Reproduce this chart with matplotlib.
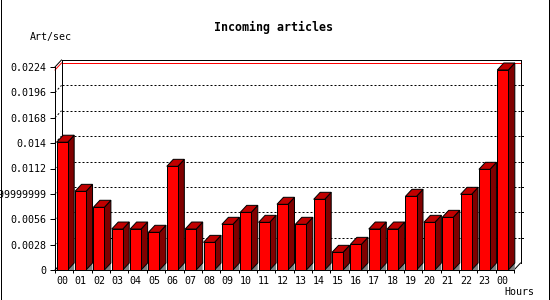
import matplotlib
matplotlib.use("Agg")
import matplotlib.pyplot as plt
from matplotlib.patches import Polygon
from matplotlib.lines import Line2D

# ---- data ----
hours = ['00', '01', '02', '03', '04', '05', '06', '07', '08', '09', '10', '11',
         '12', '13', '14', '15', '16', '17', '18', '19', '20', '21', '22', '23', '00']
values = [0.0141, 0.00868, 0.00692, 0.00452, 0.00452, 0.00416, 0.01144, 0.00452,
          0.00305, 0.00504, 0.00636, 0.00526, 0.00725, 0.00504, 0.0078, 0.00195,
          0.00283, 0.00452, 0.00452, 0.00813, 0.00526, 0.00581, 0.00835, 0.01111,
          0.02207]
y_ticks = [0, 0.0028, 0.0056, 0.0084, 0.0112, 0.014, 0.0168, 0.0196, 0.0224]
y_tick_labels = ['0', '0.0028', '0.0056', '0.00839999999999', '0.0112', '0.014',
                 '0.0168', '0.0196', '0.0224']
title = 'Incoming articles'
y_title = 'Art/sec'
x_title = 'Hours'

# ---- style ----
W, H, DPI = 550, 300, 100
PX = 72.0 / DPI  # one pixel in points
MONO = 'DejaVu Sans Mono'
FRONT = '#ff0000'
SIDE = '#800000'
TOP = '#c00000'
SHADOW = '#808080'

fig = plt.figure(figsize=(W / DPI, H / DPI), dpi=DPI)
fig.patch.set_facecolor('white')
ax_l, ax_r, ax_t, ax_b = 55, 514, 67, 270
ax = fig.add_axes([ax_l / W, 1 - ax_b / H, (ax_r - ax_l) / W, (ax_b - ax_t) / H])
n = len(values)
ymax = y_ticks[-1]
ax.set_xlim(0, n)
ax.set_ylim(0, ymax)
ax.set_facecolor('none')

# depth of the 3D effect, converted from pixels to data units
DX = 6.5 / ((ax_r - ax_l) / n)
DY = 7.0 / (ax_b - ax_t) * ymax
BAR_OFF, BAR_W = 0.09, 0.6

lw = PX
# back wall gridlines (dotted) and connecting diagonals
for t in y_ticks[1:-1]:
    ax.add_line(Line2D([DX, n + DX], [t + DY, t + DY], color='black', lw=lw,
                       dashes=(2, 2), clip_on=False, zorder=1))
    ax.add_line(Line2D([0, DX], [t, t + DY], color='black', lw=lw,
                       dashes=(2, 2), clip_on=False, zorder=1))
    ax.add_line(Line2D([n + DX, n + DX + 0.12], [t + DY, t + DY], color='black',
                       lw=lw, clip_on=False, zorder=1))
# max value line (red)
vmax = max(values)
ax.add_line(Line2D([DX, n + DX], [vmax + DY, vmax + DY], color='red', lw=lw,
                   clip_on=False, zorder=1))
ax.add_line(Line2D([0, DX], [vmax, vmax + DY], color='red', lw=lw,
                   clip_on=False, zorder=1))
# back wall outline
ax.add_line(Line2D([0, DX], [ymax, ymax + DY], color='black', lw=lw, clip_on=False, zorder=2))
ax.add_line(Line2D([DX, DX], [DY, ymax + DY], color='black', lw=lw, clip_on=False, zorder=1))
ax.add_line(Line2D([DX, n + DX], [ymax + DY, ymax + DY], color='black', lw=lw, clip_on=False, zorder=2))
ax.add_line(Line2D([n + DX, n + DX], [DY, ymax + DY], color='black', lw=lw, clip_on=False, zorder=2))
ax.add_line(Line2D([n, n + DX], [0, DY], color='black', lw=lw, clip_on=False, zorder=2))
ax.add_line(Line2D([0, DX], [0, DY], color='black', lw=lw, clip_on=False, zorder=1))

# bars
xs = [i + BAR_OFF for i in range(n)]
ax.bar(xs, values, width=BAR_W, align='edge', color=FRONT, edgecolor='black',
       linewidth=lw, zorder=4, clip_on=False)
for x0, v in zip(xs, values):
    r = x0 + BAR_W
    ax.add_patch(Polygon([(r, 0), (r + DX, DY), (r + DX, 0)], closed=True,
                         facecolor=SHADOW, edgecolor='none', zorder=3, clip_on=False))
    ax.add_patch(Polygon([(r, 0), (r + DX, DY), (r + DX, v + DY), (r, v)], closed=True,
                         facecolor=SIDE, edgecolor='black', lw=lw, zorder=3, clip_on=False))
    ax.add_patch(Polygon([(x0, v), (x0 + DX, v + DY), (r + DX, v + DY), (r, v)], closed=True,
                         facecolor=TOP, edgecolor='black', lw=lw, zorder=3, clip_on=False))

# axes / ticks
for s in ['top', 'right']:
    ax.spines[s].set_visible(False)
for s in ['left', 'bottom']:
    ax.spines[s].set_linewidth(lw)
    ax.spines[s].set_color('black')
    ax.spines[s].set_zorder(5)

ax.set_yticks(y_ticks)
ax.set_yticklabels(y_tick_labels, fontfamily=MONO, fontsize=7.2)
ax.tick_params(axis='y', length=5 * PX, width=lw, pad=4 * PX, direction='out')

ax.set_xticks(range(n + 1))
ax.set_xticklabels([])
ax.set_xticks([x + BAR_W / 2 for x in xs], minor=True)
ax.set_xticklabels(hours, minor=True, fontfamily=MONO, fontsize=7.2)
ax.tick_params(axis='x', which='major', length=3 * PX, width=lw, direction='out')
ax.tick_params(axis='x', which='minor', length=0, pad=6 * PX)

# titles
fig.text(273.5 / W, 1 - 27 / H, title, ha='center', va='center',
         fontfamily=MONO, fontsize=8.4, fontweight='bold')
fig.text(30 / W, 1 - 37 / H, y_title, ha='left', va='center',
         fontfamily=MONO, fontsize=7.2)
fig.text(504 / W, 1 - 292 / H, x_title, ha='left', va='center',
         fontfamily=MONO, fontsize=7.2)

# image frame (left, bottom, right)
fig.add_artist(Line2D([0.5 / W, 0.5 / W, 548.5 / W, 548.5 / W],
                      [1, 0.5 / H, 0.5 / H, 1], color='black', lw=lw,
                      transform=fig.transFigure))

fig.savefig('out.png', dpi=DPI)
